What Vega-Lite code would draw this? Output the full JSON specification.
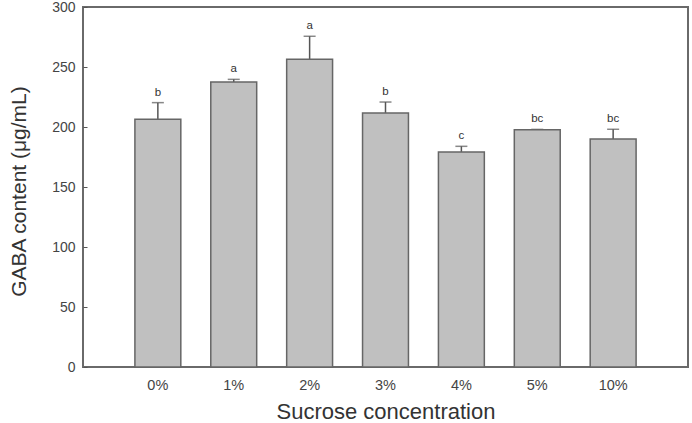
{
  "$schema": "https://vega.github.io/schema/vega-lite/v6.json",
  "width": 605,
  "height": 360,
  "autosize": {"type": "none"},
  "padding": {"left": 83, "top": 7, "right": 4, "bottom": 56},
  "background": "white",
  "config": {
    "font": "Liberation Sans",
    "view": {"stroke": "#6a6a6a", "strokeWidth": 2},
    "axis": {"grid": false, "domain": false, "labelColor": "#444", "titleColor": "#333", "labelFont": "Liberation Sans", "titleFont": "Liberation Sans", "titleFontWeight": "normal"}
  },
  "data": {
    "values": [
      {"conc": "0%", "mean": 206.4, "err": 220.3, "letter": "b"},
      {"conc": "1%", "mean": 237.5, "err": 239.7, "letter": "a"},
      {"conc": "2%", "mean": 256.4, "err": 275.6, "letter": "a"},
      {"conc": "3%", "mean": 211.7, "err": 220.8, "letter": "b"},
      {"conc": "4%", "mean": 179.2, "err": 183.9, "letter": "c"},
      {"conc": "5%", "mean": 197.8, "err": 198.0, "letter": "bc"},
      {"conc": "10%", "mean": 190.0, "err": 198.1, "letter": "bc"}
    ]
  },
  "encoding": {
    "x": {
      "field": "conc", "type": "nominal", "sort": null,
      "scale": {"paddingInner": 0.395, "paddingOuter": 0.684},
      "axis": {"title": "Sucrose concentration", "labelAngle": 0, "ticks": false, "labelPadding": 11, "labelFontSize": 14.5, "titleFontSize": 22, "titlePadding": 10}
    }
  },
  "layer": [
    {
      "mark": {"type": "rule", "color": "#555", "strokeWidth": 1.5},
      "encoding": {
        "y": {"field": "mean", "type": "quantitative"},
        "y2": {"field": "err"}
      }
    },
    {
      "mark": {"type": "tick", "color": "#555", "size": 12, "thickness": 1.5},
      "encoding": {
        "y": {"field": "err", "type": "quantitative"}
      }
    },
    {
      "mark": {"type": "bar", "fill": "#c0c0c0", "stroke": "#666", "strokeWidth": 1.5},
      "encoding": {
        "y": {
          "field": "mean", "type": "quantitative",
          "scale": {"domain": [0, 300], "nice": false},
          "axis": {"title": "GABA content (μg/mL)", "values": [0, 50, 100, 150, 200, 250, 300], "tickSize": -4, "tickColor": "#555", "tickWidth": 1, "labelPadding": 12, "labelFontSize": 14, "titleFontSize": 21, "titlePadding": 22, "titleY": 184}
        }
      }
    },
    {
      "mark": {"type": "text", "baseline": "bottom", "dy": -5, "fontSize": 11.5, "color": "#333"},
      "encoding": {
        "y": {"field": "err", "type": "quantitative"},
        "text": {"field": "letter"}
      }
    }
  ]
}
